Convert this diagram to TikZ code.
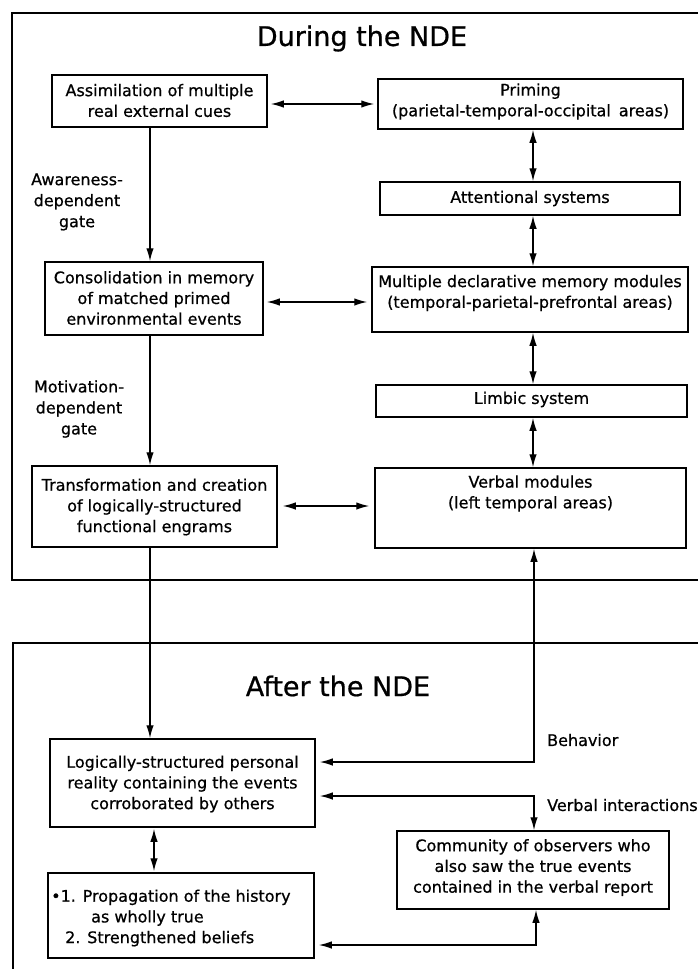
\documentclass[tikz,border=0pt]{standalone}
\usepackage{fontspec}
\setmainfont[FakeBold=0.7]{DejaVu Sans}
\usetikzlibrary{arrows.meta}
\begin{document}
\begin{tikzpicture}[x=1pt,y=-1pt,
  box/.style={draw, line width=1.5pt, rectangle, inner sep=0pt},
  txt/.style={align=center, font=\fontsize{16}{20.7}\selectfont, inner sep=0pt},
  lbl/.style={align=center, font=\fontsize{16}{21}\selectfont, inner sep=0pt},
  conn/.style={line width=1.4pt},
  tip/.style={},
  dbl/.style={conn, {Latex[length=13pt,width=7.5pt]}-{Latex[length=13pt,width=7.5pt]}},
  one/.style={conn, -{Latex[length=13pt,width=7.5pt]}},
  frame/.style={line width=1.7pt},
  ttl/.style={font=\fontsize{27}{32}\selectfont, inner sep=0pt}]
\useasboundingbox (0,0) rectangle (698,969);

% frames
\draw[frame] (698,13) -- (12,13) -- (12,580) -- (698,580);
\draw[frame] (698,643) -- (13,643) -- (13,969);

% titles
\node[ttl] (t1) at (362,38.5) {During the NDE};
\node[ttl] (t2) at (338,686) {After the NDE};

% boxes
\node[box, minimum width=215pt, minimum height=52pt] (A) at (159.5,101) {};
\node[box, minimum width=305pt, minimum height=50pt] (P) at (530.5,104) {};
\node[box, minimum width=300pt, minimum height=33pt] (Att) at (530,198.5) {};
\node[box, minimum width=218pt, minimum height=73pt] (Cons) at (154,298.5) {};
\node[box, minimum width=316pt, minimum height=65pt] (MD) at (530,299.5) {};
\node[box, minimum width=311pt, minimum height=32pt] (Lim) at (531.5,401) {};
\node[box, minimum width=245pt, minimum height=81pt] (Tr) at (154.5,506.5) {};
\node[box, minimum width=311pt, minimum height=80pt] (Vb) at (530.5,508) {};
\node[box, minimum width=265pt, minimum height=88pt] (Lg) at (182.5,783) {};
\node[box, minimum width=266pt, minimum height=85pt] (Pr) at (181,915.5) {};
\node[box, minimum width=272pt, minimum height=78pt] (Cm) at (533,870) {};

% box texts
\node[txt] (At) at (159.5,100.5) {Assimilation of multiple\\real external cues};
\node[txt] (Pt) at (530.5,101.5) {Priming\\(parietal-temporal-occipital\hspace{0.5em}areas)};
\node[txt] (Attt) at (530,198.5) {Attentional systems};
\node[txt] (Const) at (154,298) {Consolidation in memory\\of matched primed\\environmental events};
\node[txt] (MDt) at (530,293) {Multiple declarative memory modules\\(temporal-parietal-prefrontal areas)};
\node[txt] (Limt) at (531.5,399.5) {Limbic system};
\node[txt] (Trt) at (154.5,507) {Transformation and creation\\of logically-structured\\functional engrams};
\node[txt] (Vbt) at (530.5,493.5) {Verbal modules\\(left temporal areas)};
\node[txt] (Lgt) at (182.5,784) {Logically-structured personal\\reality containing the events\\corroborated by others};
\node[txt, align=left, anchor=west] (Prt) at (51,918) {•1. Propagation of the history\\\hspace*{40pt}as wholly true\\\hspace*{14pt}2. Strengthened beliefs};
\node[txt] (Cmt) at (533,867.5) {Community of observers who\\also saw the true events\\contained in the verbal report};

% side labels
\node[lbl] (aw) at (77,202) {Awareness-\\dependent\\gate};
\node[lbl] (mot) at (79,409) {Motivation-\\dependent\\gate};
\node[lbl, anchor=west] (beh) at (547,740) {Behavior};
\node[lbl, anchor=west] (vint) at (547,805) {Verbal interactions};

% lane coordinates
\coordinate (gl) at (150,0);
\coordinate (rl) at (533,0);
\coordinate (r1) at (0,104);
\coordinate (r2) at (0,302);
\coordinate (r3) at (0,506);
\coordinate (bh) at (534,762);
\coordinate (vi) at (534,796);
\coordinate (cp) at (536,945);
\coordinate (lp) at (154,0);

% left flow
\draw[one] (A.south -| gl) -- (Cons.north -| gl);
\draw[one] (Cons.south -| gl) -- (Tr.north -| gl);
\draw[one] (Tr.south -| gl) -- (Lg.north -| gl);

% horizontal double arrows
\draw[dbl, shorten <=3pt, shorten >=3pt] (A.east |- r1) -- (P.west |- r1);
\draw[dbl, shorten <=3pt, shorten >=4pt] (Cons.east |- r2) -- (MD.west |- r2);
\draw[dbl, shorten <=5pt, shorten >=5pt] (Tr.east |- r3) -- (Vb.west |- r3);

% right column
\draw[dbl] (P.south -| rl) -- (Att.north -| rl);
\draw[dbl] (Att.south -| rl) -- (MD.north -| rl);
\draw[dbl] (MD.south -| rl) -- (Lim.north -| rl);
\draw[dbl] (Lim.south -| rl) -- (Vb.north -| rl);

% after the NDE
\draw[dbl, shorten >=4pt] (Vb.south -| bh) |- (Lg.east |- bh);
\draw[dbl, shorten <=4pt] (Lg.east |- vi) -| (Cm.north -| vi);
\draw[dbl, shorten >=4pt] (Cm.south -| cp) |- (Pr.east |- cp);
\draw[dbl, shorten <=1pt, shorten >=1pt] (Lg.south -| lp) -- (Pr.north -| lp);
\end{tikzpicture}
\end{document}
